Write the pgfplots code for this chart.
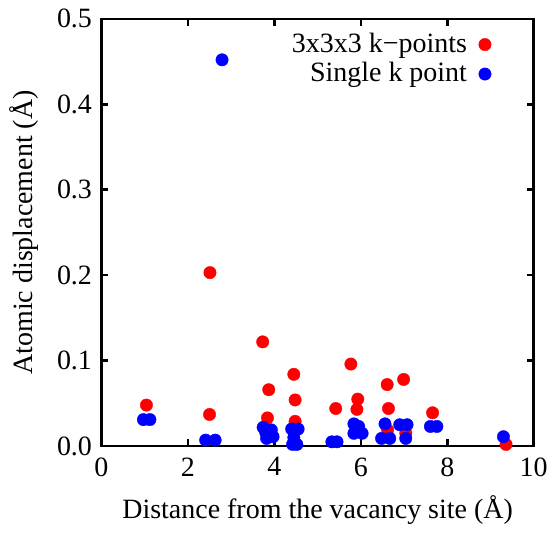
\documentclass[border=0pt]{standalone}
\usepackage{fontspec}
\setmainfont{Liberation Serif}
\usepackage{pgfplots}
\pgfplotsset{compat=1.18}

\begin{document}
\fontsize{28.5}{34}\selectfont
\begin{tikzpicture}
\begin{axis}[
  scale only axis,
  width=439bp, height=434bp,
  xmin=0, xmax=10, ymin=0, ymax=0.5,
  xtick={0,2,4,6,8,10},
  xticklabels={\textrm{0},\textrm{2},\textrm{4},\textrm{6},\textrm{8},\textrm{10}},
  ytick={0,0.1,0.2,0.3,0.4,0.5},
  yticklabels={\textrm{0.0},\textrm{0.1},\textrm{0.2},\textrm{0.3},\textrm{0.4},\textrm{0.5}},
  tick label style={font=\fontsize{28.5}{34}\selectfont},
  xticklabel style={yshift=-2bp},
  label style={font=\fontsize{28.5}{34}\selectfont},
  xlabel={Distance from the vacancy site (Å)},
  ylabel={Atomic displacement (Å)},
  axis line style={line width=2.6bp},
  major tick style={line width=2.6bp, black},
  major tick length=7bp,
  tick align=inside,
  clip=false,
  axis on top,
  legend style={draw=none, fill=none, at={(1,1)}, anchor=north east,
    xshift=-40bp, yshift=-10bp,
    font=\fontsize{28.5}{34}\selectfont, row sep=2bp, column sep=10bp},
  legend cell align=right,
  legend plot pos=right,
]
\addplot[only marks, mark=*, mark size=6.3bp, color=red, mark options={fill=red, draw=red}]
coordinates {
(1.04,0.048) (2.50,0.037) (2.51,0.203) (3.73,0.122) (3.87,0.066) (3.84,0.033)
(4.45,0.084) (4.48,0.054) (4.48,0.029) (5.42,0.044) (5.77,0.096) (5.93,0.055)
(5.91,0.043) (6.61,0.072) (6.64,0.044) (6.62,0.019) (6.99,0.078) (7.04,0.015)
(7.66,0.039) (9.36,0.002)
};
\addlegendentry{3x3x3 k−points}
\addplot[only marks, mark=*, mark size=6.3bp, color=blue, mark options={fill=blue, draw=blue}]
coordinates {
(0.97,0.031) (1.12,0.031) (2.41,0.007) (2.63,0.007) (2.79,0.452)
(3.74,0.022) (3.93,0.019) (3.82,0.009) (3.97,0.011) (3.80,0.016)
(4.40,0.020) (4.55,0.020) (4.45,0.010) (4.42,0.002) (4.52,0.002)
(5.33,0.005) (5.45,0.005)
(5.84,0.026) (5.95,0.023) (5.84,0.015) (6.03,0.015)
(6.56,0.026) (6.48,0.009) (6.67,0.009)
(6.90,0.025) (7.07,0.025) (7.04,0.009)
(7.61,0.023) (7.76,0.023) (9.30,0.011)
};
\addlegendentry{Single k point}
\end{axis}
\end{tikzpicture}
\end{document}
